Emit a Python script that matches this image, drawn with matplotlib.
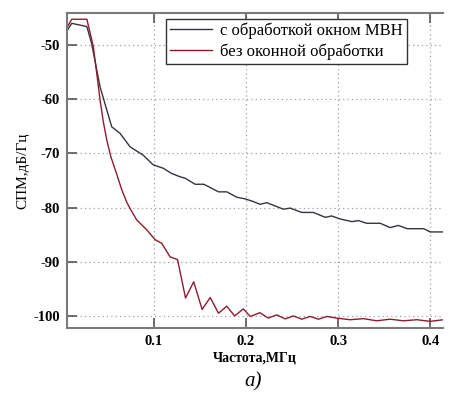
import numpy as np
import matplotlib
matplotlib.use("Agg")
import matplotlib.pyplot as plt

plt.rcParams['font.family'] = ['Liberation Serif', 'DejaVu Serif']

# кривая с обработкой окном МВН
f_win = [0.005, 0.0105, 0.027, 0.032, 0.0413, 0.054, 0.063, 0.074, 0.088, 0.099,
         0.110, 0.119, 0.128, 0.134, 0.1446, 0.154, 0.161, 0.170, 0.179, 0.190,
         0.199, 0.208, 0.215, 0.2225, 0.2315, 0.2405, 0.248, 0.2605, 0.273, 0.286,
         0.293, 0.302, 0.315, 0.322, 0.331, 0.3457, 0.3565, 0.3655, 0.375, 0.393,
         0.400, 0.4145]
p_win = [-47.5, -46.0, -46.6, -49.6, -57.7, -65.1, -66.3, -68.8, -70.3, -72.1,
         -72.75, -73.7, -74.3, -74.6, -75.7, -75.7, -76.3, -77.1, -77.1, -78.1,
         -78.4, -78.9, -79.4, -79.1, -79.7, -80.3, -80.1, -80.9, -80.9, -81.8,
         -81.55, -82.1, -82.6, -82.4, -82.9, -82.9, -83.7, -83.3, -83.9, -83.9,
         -84.5, -84.5]

# кривая без оконной обработки
f_raw = [0.005, 0.0105, 0.027, 0.034, 0.0377, 0.0413, 0.045, 0.0486, 0.053, 0.0576,
         0.0649, 0.0703, 0.074, 0.0812, 0.092, 0.101, 0.1084, 0.1174, 0.1255,
         0.1342, 0.1431, 0.1522, 0.161, 0.170, 0.179, 0.1875, 0.1927, 0.197, 0.2045,
         0.215, 0.224, 0.2334, 0.2424, 0.2514, 0.2605, 0.2695, 0.2786, 0.2877, 0.2986,
         0.313, 0.3275, 0.342, 0.3565, 0.371, 0.3855, 0.400, 0.4145]
p_raw = [-46.9, -45.25, -45.25, -50.3, -55.2, -60.1, -64.3, -67.5, -70.6, -72.9,
         -76.7, -79.0, -80.2, -82.3, -84.1, -85.9, -86.6, -89.1, -89.6,
         -96.7, -93.7, -98.8, -96.6, -99.5, -98.2, -100.0, -99.3, -98.7, -100.1,
         -99.4, -100.4, -99.8, -100.55, -100.0, -100.6, -100.1, -100.6, -100.1, -100.4,
         -100.7, -100.5, -100.9, -100.6, -100.9, -100.7, -101.0, -100.7]

xticks = [0.1, 0.2, 0.3, 0.4]
yticks = [-50, -60, -70, -80, -90, -100]

fig = plt.figure(figsize=(4.62, 3.95), dpi=100)
ax = fig.add_axes([0.145, 0.170, 0.814, 0.797])

ax.plot(f_win, p_win, color='#35353f', linewidth=1.0, label='с обработкой окном МВН')
ax.plot(f_raw, p_raw, color='#8e1c30', linewidth=1.0, label='без оконной обработки')

ax.set_xlim(0.0054, 0.414)
ax.set_ylim(-102.2, -44.1)
ax.set_xticks(xticks)
ax.set_xticklabels([str(t) for t in xticks])
ax.set_yticks(yticks)
ax.set_yticklabels([str(t) for t in yticks])

ax.grid(True, linestyle=(0, (1, 2.5)), color='#a0a0a0', linewidth=0.9)
for side in ['left', 'bottom', 'top']:
    ax.spines[side].set_color('#7a7a7a')
    ax.spines[side].set_linewidth(1.5)
ax.spines['right'].set_visible(False)

ax.tick_params(direction='in', length=7, width=1.2, color='#555555',
               top=True, labelsize=10.5, pad=5)
for lab in ax.get_xticklabels() + ax.get_yticklabels():
    lab.set_fontweight('bold')

ax.set_xlabel('Частота,МГц', fontsize=10, fontweight='bold', labelpad=3)
ax.set_ylabel('СПМ,дБ/Гц', fontsize=11, labelpad=3)

leg = ax.legend(loc='upper left', bbox_to_anchor=(0.255, 0.993), fontsize=12,
                frameon=True, fancybox=False, handlelength=2.5, borderpad=0.25,
                labelspacing=0.25, handletextpad=0.5, borderaxespad=0.2)
leg.get_frame().set_edgecolor('#333333')
leg.get_frame().set_linewidth(1.0)
leg.get_frame().set_alpha(1)

fig.text(0.548, 0.033, 'а)', fontsize=15, style='italic', ha='center', va='center')

fig.savefig('out.png', dpi=100)
